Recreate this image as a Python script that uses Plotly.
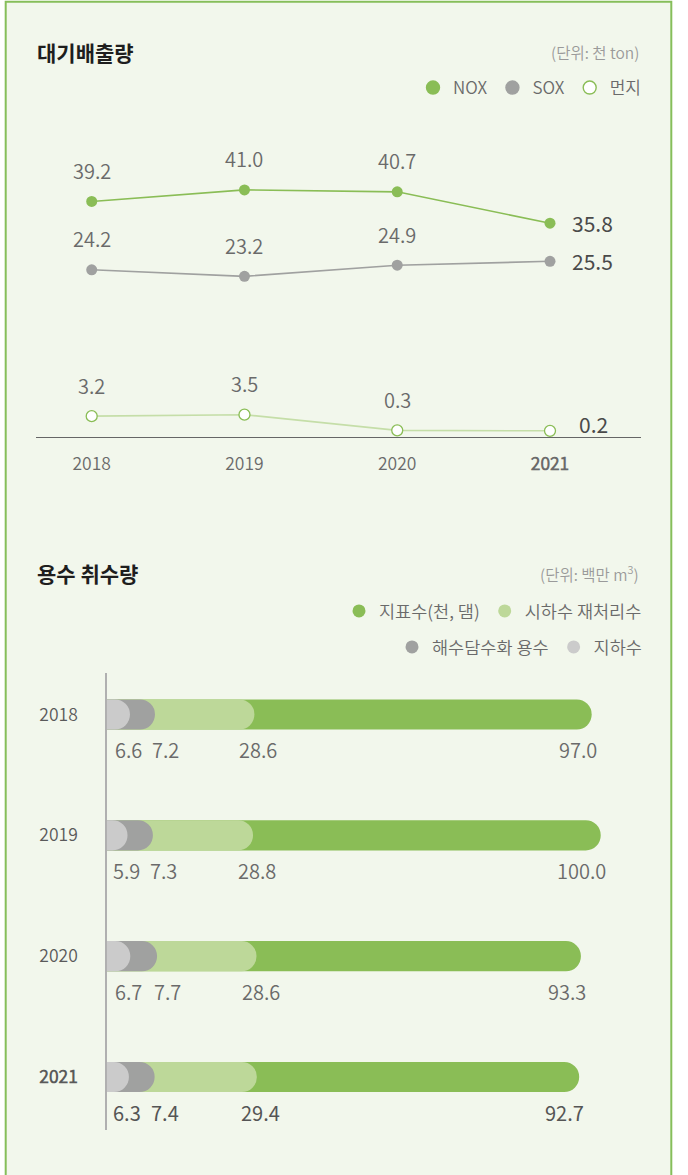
import numpy as np
import plotly.graph_objects as go

W, H = 688, 1175
FONT = "Noto Sans CJK KR DemiLight, Noto Sans CJK KR"
FONT_B = "Noto Sans CJK KR"

# ---------------- data: air emissions (unit: 천 ton) ----------------
years = [2018, 2019, 2020, 2021]
nox = [39.2, 41.0, 40.7, 35.8]
sox = [24.2, 23.2, 24.9, 25.5]
dust = [3.2, 3.5, 0.3, 0.2]

# ---------------- data: water withdrawal (unit: 백만 m3) ----------------
water_years = ["2018", "2019", "2020", "2021"]
groundwater = [6.6, 5.9, 6.7, 6.3]      # 지하수
desalination = [7.2, 7.3, 7.7, 7.4]     # 해수담수화 용수
reclaimed = [28.6, 28.8, 28.6, 29.4]    # 시하수 재처리수
surface = [97.0, 100.0, 93.3, 92.7]     # 지표수(천, 댐)

GREEN = "#8ABD56"
LGREEN = "#BDD899"
DGREY = "#A0A1A0"
LGREY = "#CBCBCB"
LINE_LGREEN = "#C5DEA8"


def xp(px):
    return px / W


def yp(px):
    return 1 - px / H


fig = go.Figure()

# ---------------- line chart ----------------
fig.add_trace(go.Scatter(x=years, y=nox, mode="lines+markers", yaxis="y",
                         line=dict(color=GREEN, width=1.6),
                         marker=dict(size=11, color=GREEN), showlegend=False))
fig.add_trace(go.Scatter(x=years, y=sox, mode="lines+markers", yaxis="y3",
                         line=dict(color=DGREY, width=1.6),
                         marker=dict(size=11, color=DGREY), showlegend=False))
fig.add_trace(go.Scatter(x=years, y=dust, mode="lines+markers", yaxis="y4",
                         line=dict(color=LINE_LGREEN, width=1.6),
                         marker=dict(size=11, color="white", line=dict(color=GREEN, width=1.3)),
                         showlegend=False))

# legend entries (circles)
for name, col, lc in [("NOX", GREEN, GREEN), ("SOX", DGREY, DGREY), ("먼지", "white", GREEN)]:
    fig.add_trace(go.Scatter(x=[None], y=[None], mode="markers", name=name, legend="legend",
                             marker=dict(size=13, color=col, line=dict(color=lc, width=1.4))))

annotations = []
series = [(nox, "y"), (sox, "y3"), (dust, "y4")]
for k, (vals, yref) in enumerate(series):
    for i, (yr, v) in enumerate(zip(years, vals)):
        last = i == len(years) - 1
        if not last:
            annotations.append(dict(x=yr, y=v, xref="x", yref=yref, text=f"{v:.1f}",
                                    showarrow=False, yshift=31,
                                    font=dict(family=FONT, size=20, color="#6A6A6A")))
        else:
            annotations.append(dict(x=yr, y=v, xref="x", yref=yref, text=f"{v:.1f}",
                                    showarrow=False, xanchor="left",
                                    xshift=27 if k == 2 else 20, yshift=7 if k == 2 else 0,
                                    font=dict(family=FONT_B, size=21, color="#4A4A4A")))

# ---------------- bar chart (stacked, drawn as overlapping rounded bars) ----------------
parts = np.array([groundwater, desalination, reclaimed, surface])
cum = np.cumsum(parts, axis=0)
bar_cols = [LGREY, DGREY, LGREEN, GREEN]
bar_axes = {3: "x2", 2: "x5", 1: "x6", 0: "x7"}
for k in [3, 2, 1, 0]:
    fig.add_trace(go.Bar(y=water_years, x=cum[k], orientation="h", xaxis=bar_axes[k], yaxis="y2",
                         marker=dict(color=bar_cols[k], line=dict(width=0), cornerradius=15),
                         width=0.25, showlegend=False))

leg_items = [("지표수(천, 댐)", GREEN, "legend2"), ("시하수 재처리수", LGREEN, "legend2"),
             ("해수담수화 용수", DGREY, "legend3"), ("지하수", LGREY, "legend3")]
for name, col, lg in leg_items:
    fig.add_trace(go.Scatter(x=[None], y=[None], mode="markers", name=name, legend=lg,
                             xaxis="x2", yaxis="y2",
                             marker=dict(size=13, color=col)))

label_shift = [14, 26, 25, 7]
for k in range(4):
    for i, yr in enumerate(water_years):
        annotations.append(dict(x=float(cum[k][i]), y=i, xref="x2", yref="y2",
                                text=f"{parts[k][i]:.1f}", showarrow=False,
                                xanchor="right", xshift=label_shift[k], yshift=-35,
                                font=dict(family=FONT_B if i == 3 else FONT, size=20,
                                          color="#555555" if i == 3 else "#6A6A6A")))

# ---------------- titles ----------------
annotations += [
    dict(x=xp(35), y=yp(52), xref="paper", yref="paper", xanchor="left", yanchor="middle",
         text="<b>대기배출량</b>", showarrow=False, font=dict(family=FONT_B, size=21, color="#1E1E1E")),
    dict(x=xp(641), y=yp(52), xref="paper", yref="paper", xanchor="right", yanchor="middle",
         text="(단위: 천 ton)", showarrow=False, font=dict(family=FONT, size=15.5, color="#9A9A9A")),
    dict(x=xp(35), y=yp(573), xref="paper", yref="paper", xanchor="left", yanchor="middle",
         text="<b>용수 취수량</b>", showarrow=False, font=dict(family=FONT_B, size=21, color="#1E1E1E")),
    dict(x=xp(641), y=yp(573), xref="paper", yref="paper", xanchor="right", yanchor="middle",
         text="(단위: 백만 m<sup>3</sup>)", showarrow=False, font=dict(family=FONT, size=15.5, color="#9A9A9A")),
]

# ---------------- axis geometry ----------------
px_per_year = (550 - 91.7) / 3
x_range = [2018 - (91.7 - 36.4) / px_per_year, 2021 + (640.7 - 550) / px_per_year]
dom_bot, dom_top = 437, 137
dom_h = dom_bot - dom_top


def y_range(vals, ypix, scale):
    mv = float(np.mean(vals))
    my = float(np.mean(ypix))
    r0 = mv - (dom_bot - my) / scale
    return [r0, r0 + dom_h / scale]


rng_nox = y_range(nox, [202.7, 188, 193, 222.7], 6.4)
rng_sox = y_range(sox, [270, 275.7, 267.3, 259.7], 6.54)
rng_dust = y_range(dust, [417.3, 413.7, 428.7, 432.3], 4.89)

bar_scale = 3.477
bar_top, bar_bot = 673, 1130
cat_px = (1077 - 714.5) / 3
y2_range = [3 + (bar_bot - 1077) / cat_px, -(714.5 - bar_top) / cat_px]
x2_range = [0, (660 - 107) / bar_scale]
x2_dom = [xp(107), xp(660)]

ydom = [yp(dom_bot), yp(dom_top)]

layout_axes = {}
for ax in ["xaxis5", "xaxis6", "xaxis7"]:
    layout_axes[ax] = dict(domain=x2_dom, range=x2_range, anchor="y2", overlaying="x2",
                           visible=False)

fig.update_layout(
    width=W, height=H,
    margin=dict(l=0, r=0, t=0, b=0),
    paper_bgcolor="white", plot_bgcolor="rgba(0,0,0,0)",
    font=dict(family=FONT, color="#666666"),
    barmode="overlay",
    annotations=annotations,
    shapes=[dict(type="rect", xref="paper", yref="paper", x0=xp(5.7), x1=xp(671.3),
                 y0=-0.02, y1=yp(1.7), fillcolor="#F2F7EC",
                 line=dict(color="#86BE5A", width=2), layer="below")],
    xaxis=dict(domain=[xp(36.4), xp(640.7)], range=x_range, anchor="y",
               showgrid=False, zeroline=False, showline=True, linecolor="#666666", linewidth=1,
               tickvals=years,
               ticktext=["2018", "2019", "2020", "<b>2021</b>"],
               ticks="", ticklabelstandoff=11,
               tickfont=dict(family=FONT, size=17.5, color="#6A6A6A")),
    yaxis=dict(domain=ydom, range=rng_nox, visible=False, fixedrange=True),
    yaxis3=dict(domain=ydom, range=rng_sox, visible=False, overlaying="y"),
    yaxis4=dict(domain=ydom, range=rng_dust, visible=False, overlaying="y"),
    xaxis2=dict(domain=x2_dom, range=x2_range, anchor="y2", visible=False),
    yaxis2=dict(domain=[yp(bar_bot), yp(bar_top)], type="category", categoryarray=water_years,
                range=y2_range, anchor="x2", showgrid=False, zeroline=False,
                showline=True, linecolor="#B0B0B0", linewidth=1.5,
                tickvals=water_years, ticktext=["2018", "2019", "2020", "<b>2021</b>"],
                ticks="", ticklabelstandoff=24,
                tickfont=dict(family=FONT, size=17.5, color="#5A5A5A")),
    legend=dict(orientation="h", x=xp(646), xanchor="right", y=yp(88), yanchor="middle",
                bgcolor="rgba(0,0,0,0)", font=dict(family=FONT, size=17, color="#6A6A6A"),
                itemclick=False, itemdoubleclick=False),
    legend2=dict(orientation="h", x=xp(647), xanchor="right", y=yp(611), yanchor="middle",
                 bgcolor="rgba(0,0,0,0)", font=dict(family=FONT, size=17.5, color="#6A6A6A")),
    legend3=dict(orientation="h", x=xp(647), xanchor="right", y=yp(647), yanchor="middle",
                 bgcolor="rgba(0,0,0,0)", font=dict(family=FONT, size=17.5, color="#6A6A6A")),
    **layout_axes,
)

fig.write_html("out.html", config={"displayModeBar": False},
               post_script="document.body.style.margin='0';")
